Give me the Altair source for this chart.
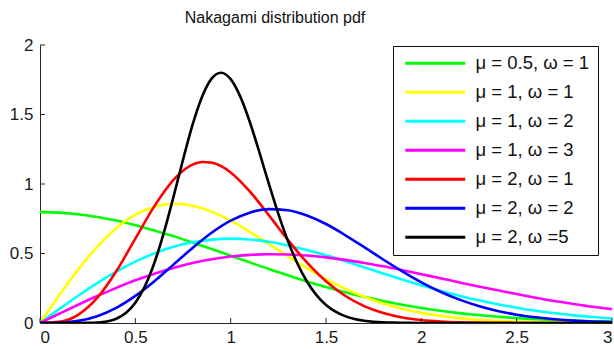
import altair as alt
import pandas as pd

x01 = [round(i * 0.1, 2) for i in range(31)]

green = [0.798, 0.794, 0.782, 0.763, 0.737, 0.704, 0.666, 0.625, 0.579, 0.532, 0.484,
         0.436, 0.388, 0.343, 0.299, 0.259, 0.222, 0.188, 0.158, 0.131, 0.108,
         0.088, 0.071, 0.057, 0.045, 0.035, 0.027, 0.021, 0.016, 0.012, 0.009]
yellow = [0.0, 0.198, 0.384, 0.548, 0.682, 0.779, 0.837, 0.858, 0.844, 0.801, 0.736,
          0.656, 0.569, 0.480, 0.394, 0.316, 0.247, 0.189, 0.141, 0.103, 0.073,
          0.051, 0.035, 0.023, 0.015, 0.010, 0.006, 0.004, 0.002, 0.0013, 0.0007]
cyan = [0.0, 0.0995, 0.196, 0.287, 0.369, 0.441, 0.501, 0.548, 0.581, 0.600, 0.607,
        0.601, 0.584, 0.558, 0.525, 0.487, 0.445, 0.401, 0.356, 0.313, 0.271,
        0.232, 0.196, 0.163, 0.135, 0.110, 0.088, 0.070, 0.055, 0.043, 0.033]
magenta = [0.0, 0.0664, 0.1316, 0.194, 0.253, 0.307, 0.355, 0.396, 0.431, 0.458, 0.478,
           0.490, 0.495, 0.493, 0.486, 0.472, 0.454, 0.432, 0.408, 0.380, 0.351,
           0.322, 0.292, 0.263, 0.235, 0.208, 0.182, 0.158, 0.137, 0.117, 0.100]
red_x = [0.0, 0.1, 0.2, 0.3, 0.4, 0.5, 0.6, 0.7, 0.8, 0.85, 0.9, 0.95, 1.0, 1.1, 1.2, 1.3,
         1.4, 1.5, 1.6, 1.7, 1.8, 1.9, 2.0, 2.1, 2.2, 2.3, 2.4, 2.5, 2.6, 2.8, 3.0]
red = [0.0, 0.0078, 0.0591, 0.180, 0.372, 0.607, 0.841, 1.030, 1.139, 1.158, 1.154, 1.128,
       1.083, 0.947, 0.776, 0.598, 0.436, 0.300, 0.196, 0.121, 0.0716, 0.0402, 0.0215,
       0.0109, 0.0053, 0.0025, 0.0011, 0.0005, 0.0002, 0.0, 0.0]
blue = [0.0, 0.002, 0.0154, 0.0493, 0.109, 0.195, 0.301, 0.420, 0.540, 0.649, 0.736,
        0.794, 0.819, 0.811, 0.773, 0.712, 0.633, 0.546, 0.457, 0.372, 0.293,
        0.225, 0.168, 0.123, 0.087, 0.060, 0.041, 0.027, 0.017, 0.011, 0.007]
black_x = [0.0, 0.1, 0.2, 0.25, 0.3, 0.35, 0.4, 0.45, 0.5, 0.55, 0.6, 0.65, 0.7, 0.75,
           0.8, 0.85, 0.9, 0.95, 1.0, 1.05, 1.1, 1.15, 1.2, 1.25, 1.3, 1.35, 1.4, 1.45,
           1.5, 1.55, 1.6, 1.65, 1.7, 1.75, 1.8, 1.85, 1.9, 2.0, 2.5, 3.0]
black = [0.0, 0.0, 0.0001, 0.0007, 0.0033, 0.0111, 0.0307, 0.0716, 0.1457, 0.2643,
         0.4338, 0.6523, 0.9069, 1.1743, 1.4248, 1.6276, 1.7578, 1.8008, 1.7548,
         1.6305, 1.4479, 1.2309, 1.0032, 0.7851, 0.5908, 0.4277, 0.2983, 0.2007,
         0.1302, 0.0816, 0.0494, 0.0289, 0.0164, 0.0090, 0.0048, 0.0024, 0.0012,
         0.0003, 0.0, 0.0]

labels = ["μ = 0.5, ω = 1", "μ = 1, ω = 1", "μ = 1, ω = 2", "μ = 1, ω = 3",
          "μ = 2, ω = 1", "μ = 2, ω = 2", "μ = 2, ω =5"]
colors = ["#00ff00", "#ffff00", "#00ffff", "#ff00ff", "#ff0000", "#0000ff", "#000000"]
series = [(x01, green), (x01, yellow), (x01, cyan), (x01, magenta),
          (red_x, red), (x01, blue), (black_x, black)]

x_ticks = [0, 0.5, 1, 1.5, 2, 2.5, 3]
y_ticks = [0, 0.5, 1, 1.5, 2]

rows = []
for i, (xs, ys) in enumerate(series):
    for xv, yv in zip(xs, ys):
        rows.append({"x": xv, "y": yv, "s": labels[i], "o": i})
df = pd.DataFrame(rows)

W, H = 572, 278
FONT = "Liberation Sans"

xscale = alt.Scale(domain=[0, 3], nice=False, zero=False)
yscale = alt.Scale(domain=[0, 2], nice=False)

lines = alt.Chart(df).mark_line(strokeWidth=2.6, clip=True, interpolate="monotone").encode(
    x=alt.X("x:Q", scale=xscale, title=None,
            axis=alt.Axis(values=x_ticks, format="~g", tickSize=0, labelPadding=6,
                          domainColor="#262626", labelColor="#1a1a1a",
                          labelFont=FONT, labelFontSize=17, grid=False)),
    y=alt.Y("y:Q", scale=yscale, title=None,
            axis=alt.Axis(values=y_ticks, format="~g", tickSize=0, labelPadding=7,
                          domainColor="#262626", labelColor="#1a1a1a",
                          labelFont=FONT, labelFontSize=17, grid=False)),
    color=alt.Color("s:N", scale=alt.Scale(domain=labels, range=colors),
                    legend=alt.Legend(title=None, orient="none", legendX=353, legendY=1,
                                      fillColor="white", strokeColor="#111",
                                      padding=8, rowPadding=10,
                                      symbolType="M-1,0H11", symbolSize=100,
                                      symbolStrokeWidth=3, labelOffset=56,
                                      labelFont=FONT, labelFontSize=18.5,
                                      labelColor="#111", labelLimit=300)),
    order="o:Q",
    detail="s:N",
)

xt = alt.Chart(pd.DataFrame({"t": x_ticks})).mark_rule(color="#262626").encode(
    x=alt.X("t:Q", scale=xscale), y=alt.value(H), y2=alt.value(H - 5))
yt = alt.Chart(pd.DataFrame({"t": y_ticks})).mark_rule(color="#262626").encode(
    y=alt.Y("t:Q", scale=yscale), x=alt.value(0), x2=alt.value(5))

chart = alt.layer(lines, xt, yt).properties(
    width=W, height=H,
    title=alt.TitleParams("Nakagami distribution pdf", font=FONT, fontSize=16,
                          fontWeight="normal", color="#111", anchor="middle",
                          dx=-51, offset=10),
    autosize=alt.AutoSizeParams(type="none"),
    padding={"left": 40, "top": 45, "right": 2, "bottom": 26},
).configure_view(stroke=None)

chart.save("out.html", embed_options={"renderer": "svg", "actions": False})
